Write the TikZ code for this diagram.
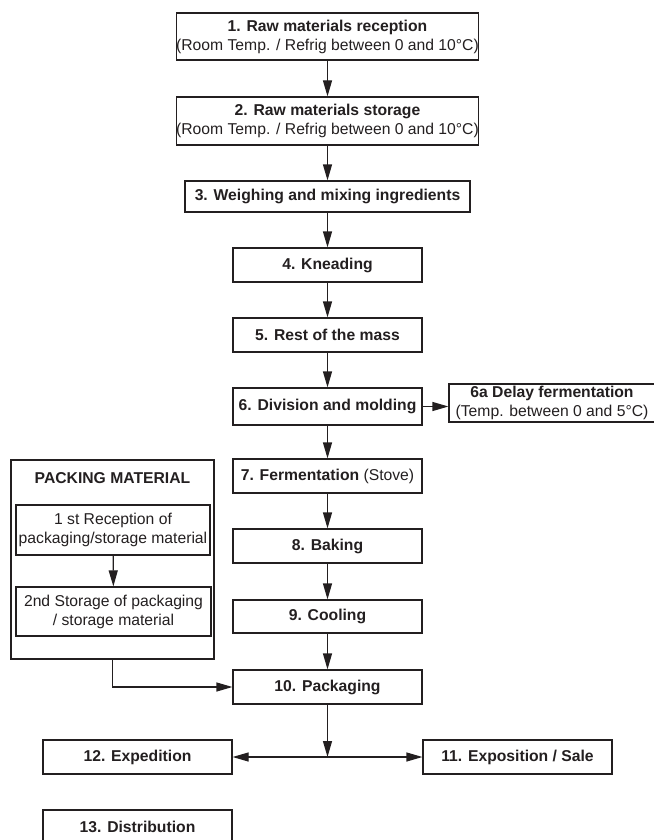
\documentclass[tikz,border=0pt]{standalone}
\usepackage{fontspec}
\setmainfont{Liberation Sans}
\usetikzlibrary{arrows.meta,positioning}
\definecolor{InkGray}{RGB}{35,31,32}

\begin{document}
\begin{tikzpicture}[x=1pt,y=-1pt,>={Triangle[length=16pt,width=9pt]},
  stepbox/.style={draw=InkGray,line width=1.2pt,inner sep=0pt,align=center,text=InkGray,
    font=\fontsize{15.7}{19}\selectfont,minimum width=189pt,minimum height=34pt},
  flow/.style={->,line width=1.2pt,InkGray}]
  \useasboundingbox (0,0) rectangle (653,840);
  % main line
  \node[stepbox,minimum width=301pt,minimum height=47pt] (r1) at (327.5,36.5) {\textbf{1. Raw materials reception}\\(Room Temp. / Refrig between 0 and 10°C)};
  \node[stepbox,minimum width=301pt,minimum height=48pt] (r2) at (327.5,121) {\textbf{2. Raw materials storage}\\(Room Temp. / Refrig between 0 and 10°C)};
  \node[stepbox,minimum width=285pt,minimum height=31pt] (r3) at (327.5,196.5) {\textbf{3. Weighing and mixing ingredients}};
  \node[stepbox] (r4) at (327.5,265) {\textbf{4. Kneading}};
  \node[stepbox] (r5) at (327.5,335) {\textbf{5. Rest of the mass}};
  \node[stepbox,minimum height=37pt] (r6) at (327.5,406.5) {\textbf{6. Division and molding}};
  \node[stepbox,minimum width=206pt,minimum height=38pt] (r6a) at (552,403) {\textbf{6a Delay fermentation}\\(Temp. between 0 and 5°C)};
  \node[stepbox] (r7) at (327.5,476) {\textbf{7. Fermentation} (Stove)};
  \node[stepbox] (r8) at (327.5,546) {\textbf{8. Baking}};
  \node[stepbox,minimum height=33pt] (r9) at (327.5,616.5) {\textbf{9. Cooling}};
  \node[stepbox] (r10) at (327.5,687) {\textbf{10. Packaging}};
  \node[stepbox] (r11) at (517.5,757) {\textbf{11. Exposition / Sale}};
  \node[stepbox] (r12) at (137.5,757) {\textbf{12. Expedition}};
  \node[stepbox] (r13) at (137.5,827) {\textbf{13. Distribution}};
  % packing material
  \node[stepbox,minimum width=203pt,minimum height=199pt] (pack) at (112.5,559.5) {};
  \node[font=\fontsize{15.7}{19}\selectfont\bfseries,text=InkGray] (packtitle) at (112.5,478) {PACKING MATERIAL};
  \node[stepbox,minimum width=194pt,minimum height=50pt] (p1) at (113,530) {1 st Reception of\\packaging/storage material};
  \node[stepbox,minimum width=195pt,minimum height=49pt] (p2) at (113.5,611.5) {2nd Storage of packaging\\/ storage material};
  \coordinate (split) at (327.5,757);
  \foreach \a/\b in {r1/r2,r2/r3,r3/r4,r4/r5,r5/r6,r6/r7,r7/r8,r8/r9,r9/r10,p1/p2}
    \draw[flow] (\a) -- (\b);
  \draw[flow] (r6.east) -- (r6.east -| r6a.west);
  \draw[flow] (pack.south) |- (r10.west);
  \draw[flow] (r10) -- (split);
  \draw[flow,<->] (r12.east) -- (r11.west);
\end{tikzpicture}
\end{document}
